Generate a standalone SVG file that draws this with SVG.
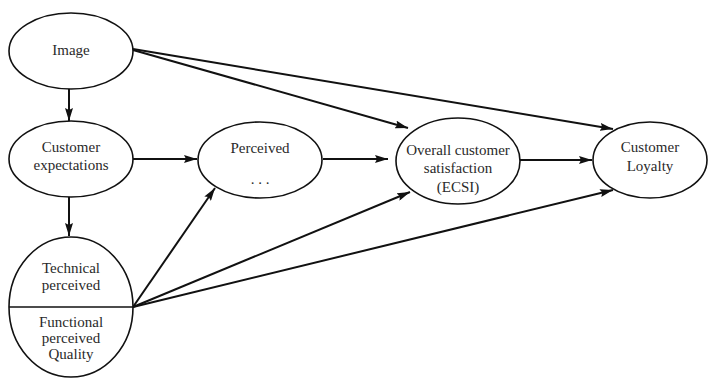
<svg xmlns="http://www.w3.org/2000/svg" width="710" height="378" viewBox="0 0 710 378">
<defs>
<marker id="ah" viewBox="0 0 13 8" refX="13" refY="4" markerWidth="13" markerHeight="8" markerUnits="userSpaceOnUse" orient="auto">
<path d="M0,0 L13,4 L0,8 L2,4 Z" fill="#111"/>
</marker>
<style>
.n{fill:#fff;stroke:#111;stroke-width:1.6}
.t{font-family:"Liberation Serif","Times New Roman",serif;font-size:15px;fill:#2a2a2a;text-anchor:middle}
.c{stroke:#111;stroke-width:2;fill:none;marker-end:url(#ah)}
</style>
</defs>
<rect width="710" height="378" fill="#fff"/>
<g id="connectors">
<line class="c" x1="69" y1="89" x2="69" y2="121"/>
<line class="c" x1="69" y1="197" x2="69" y2="236"/>
<line class="c" x1="133" y1="159" x2="197" y2="159"/>
<line class="c" x1="323" y1="159" x2="388" y2="159"/>
<line class="c" x1="520" y1="160" x2="592" y2="160"/>
<line class="c" x1="133" y1="50" x2="408" y2="128"/>
<line class="c" x1="133" y1="49" x2="613" y2="129"/>
<line class="c" x1="133" y1="307" x2="215" y2="188"/>
<line class="c" x1="133" y1="307" x2="410" y2="192"/>
<line class="c" x1="133" y1="307" x2="613" y2="190"/>
</g>
<g id="image">
<ellipse class="n" cx="71" cy="51" rx="62" ry="38"/>
<text class="t" x="71" y="55">Image</text>
</g>
<g id="expectations">
<ellipse class="n" cx="71" cy="159" rx="62" ry="38"/>
<text class="t" x="71" y="152">Customer</text>
<text class="t" x="71" y="170">expectations</text>
</g>
<g id="quality">
<ellipse class="n" cx="71" cy="307" rx="62" ry="70"/>
<line x1="9" y1="307" x2="133" y2="307" stroke="#111" stroke-width="1.6"/>
<text class="t" x="71" y="273">Technical</text>
<text class="t" x="71" y="290">perceived</text>
<text class="t" x="71" y="327">Functional</text>
<text class="t" x="71" y="343">perceived</text>
<text class="t" x="71" y="359">Quality</text>
</g>
<g id="perceived">
<ellipse class="n" cx="260" cy="160" rx="62" ry="38"/>
<text class="t" x="260" y="153">Perceived</text>
<text class="t" x="260" y="184">. . .</text>
</g>
<g id="satisfaction">
<ellipse class="n" cx="458" cy="161" rx="62" ry="43"/>
<text class="t" x="458" y="155">Overall customer</text>
<text class="t" x="458" y="173">satisfaction</text>
<text class="t" x="458" y="192">(ECSI)</text>
</g>
<g id="loyalty">
<ellipse class="n" cx="650" cy="160" rx="57" ry="38"/>
<text class="t" x="650" y="152">Customer</text>
<text class="t" x="650" y="171">Loyalty</text>
</g>
</svg>
